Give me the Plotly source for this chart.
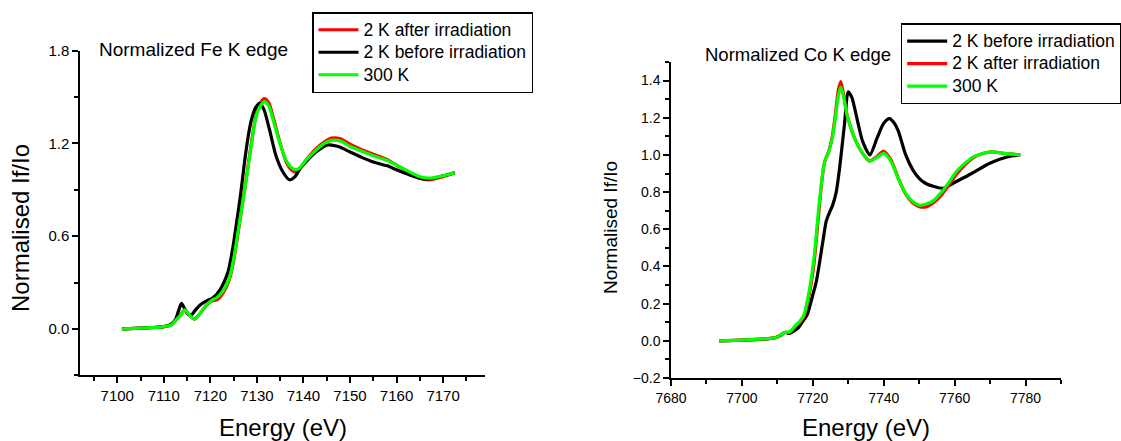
import plotly.graph_objects as go

W, H = 1121, 441

# ---------------- Fe K edge data ----------------
fe_before_E = [7101, 7104, 7107, 7110, 7111.5, 7112.5, 7113.2, 7113.8, 7114.5, 7115.2, 7115.9, 7117, 7118,
               7119.1, 7120.5, 7122, 7123.8, 7124.8, 7125.6, 7126.5, 7127.3, 7128.1, 7128.8, 7129.7, 7130.6,
               7131.5, 7132.7, 7134.1, 7135.5, 7137.0, 7138.2, 7139.1, 7140.5, 7142.5, 7145.2, 7147.5, 7150,
               7152.5, 7155, 7158, 7160, 7162.5, 7165, 7167, 7170, 7172.5]
fe_before_v = [0.0, 0.003, 0.008, 0.015, 0.03, 0.06, 0.12, 0.165, 0.13, 0.095, 0.09, 0.13, 0.16,
               0.18, 0.2, 0.25, 0.37, 0.52, 0.68, 0.87, 1.07, 1.24, 1.35, 1.43, 1.46,
               1.42, 1.29, 1.12, 1.02, 0.965, 0.985, 1.03, 1.08, 1.14, 1.19, 1.18, 1.145,
               1.11, 1.08, 1.055, 1.03, 1.0, 0.975, 0.97, 0.99, 1.01]

fe_300_E = [7101, 7104, 7107, 7110, 7111.6, 7112.7, 7113.6, 7114.5, 7115.5, 7116.6, 7117.8, 7119.1, 7120.3,
            7121.5, 7122.8, 7124.1, 7125, 7125.9, 7126.8, 7127.7, 7128.7, 7129.8, 7130.7, 7131.6, 7132.6,
            7133.5, 7134.5, 7135.4, 7136.3, 7137.4, 7138.4, 7139.3, 7140.5, 7142.5, 7144.5, 7146, 7148,
            7150, 7152.5, 7155, 7158, 7160, 7162.5, 7165, 7167, 7170, 7172.5]
fe_300_v = [0.0, 0.003, 0.008, 0.015, 0.026, 0.06, 0.09, 0.123, 0.09, 0.063, 0.1, 0.155, 0.185,
            0.205, 0.25, 0.33, 0.45, 0.62, 0.79, 0.96, 1.17, 1.37, 1.44, 1.47, 1.44,
            1.35, 1.245, 1.16, 1.09, 1.045, 1.03, 1.045, 1.09, 1.15, 1.2, 1.22, 1.215,
            1.18, 1.15, 1.12, 1.09, 1.06, 1.02, 0.985, 0.975, 0.99, 1.01]
fe_after_E = fe_300_E
fe_after_v = [0.0, 0.003, 0.008, 0.015, 0.026, 0.06, 0.09, 0.123, 0.09, 0.063, 0.1, 0.15, 0.18,
              0.19, 0.235, 0.32, 0.44, 0.61, 0.79, 0.97, 1.18, 1.38, 1.46, 1.49, 1.46,
              1.37, 1.255, 1.16, 1.08, 1.03, 1.015, 1.04, 1.09, 1.16, 1.21, 1.235, 1.23,
              1.195, 1.16, 1.13, 1.095, 1.06, 1.015, 0.975, 0.965, 0.985, 1.01]

# ---------------- Co K edge data ----------------
co_before_E = [7693.6, 7700, 7705, 7709, 7711, 7712.2, 7713.5, 7715.9, 7717, 7718.4, 7719.9, 7721,
               7722.8, 7723.8, 7724.7, 7725.6, 7726.6, 7727.5, 7728.9, 7730, 7731, 7732, 7733, 7734.1,
               7736.1, 7738.1, 7740, 7741.6, 7743, 7744.1, 7746.2, 7748.2, 7750.2, 7752, 7754.2, 7756.8,
               7759.8, 7764.8, 7769.9, 7775, 7778.5]
co_before_v = [0.0, 0.003, 0.007, 0.015, 0.03, 0.045, 0.04, 0.07, 0.1, 0.14, 0.24, 0.32,
               0.53, 0.645, 0.69, 0.73, 0.8, 0.92, 1.16, 1.34, 1.31, 1.235, 1.15, 1.07,
               1.0, 1.09, 1.17, 1.195, 1.17, 1.13, 1.0, 0.92, 0.87, 0.845, 0.83, 0.82,
               0.85, 0.9, 0.955, 0.99, 1.0]

co_300_E = [7693.6, 7700, 7705, 7708, 7710, 7712, 7713.5, 7715, 7716.5, 7717.5, 7719, 7720.3, 7721.5,
            7722.5, 7723.3, 7724.5, 7725.5, 7726.5, 7727.2, 7727.9, 7728.8, 7729.6, 7730.5, 7732, 7734,
            7736, 7738, 7740, 7742, 7744, 7746, 7748, 7750, 7752.2, 7754.2, 7756.3, 7758.3, 7760.3,
            7762.3, 7765.3, 7768.4, 7770.5, 7774, 7778.5]
co_300_v = [0.0, 0.004, 0.009, 0.013, 0.02, 0.045, 0.05, 0.08, 0.11, 0.14, 0.27, 0.44, 0.68,
            0.86, 0.96, 1.02, 1.09, 1.22, 1.32, 1.365, 1.3, 1.22, 1.16, 1.08, 1.01,
            0.967, 0.985, 1.008, 0.967, 0.877, 0.80, 0.752, 0.73, 0.737, 0.757, 0.80, 0.85, 0.905,
            0.945, 0.99, 1.01, 1.017, 1.008, 1.0]
co_after_E = co_300_E
co_after_v = [0.0, 0.004, 0.009, 0.013, 0.02, 0.045, 0.045, 0.075, 0.1, 0.13, 0.25, 0.41, 0.65,
              0.85, 0.96, 1.02, 1.1, 1.24, 1.35, 1.395, 1.31, 1.22, 1.16, 1.08, 1.01,
              0.967, 0.99, 1.02, 0.975, 0.88, 0.795, 0.745, 0.722, 0.722, 0.745, 0.785, 0.835, 0.89,
              0.935, 0.985, 1.01, 1.017, 1.008, 1.0]

RED, BLACK, GREEN = "#ff0000", "#000000", "#00ff00"
FONT = "Liberation Sans, Arial, sans-serif"
LW = 3.2
LEG_TEXT_PX = 17.5

fig = go.Figure()

def add(x, y, name, color, xa, ya, leg):
    label = "<span style='font-size:%.1fpx'>%s</span>" % (LEG_TEXT_PX, name)
    fig.add_trace(go.Scatter(x=x, y=y, name=label, mode="lines",
                             line=dict(color=color, width=LW, shape="spline", smoothing=0.7),
                             xaxis=xa, yaxis=ya, legend=leg))

# Left panel (legend order: after, before, 300 K)
add(fe_after_E, fe_after_v, "2 K after irradiation", RED, "x", "y", "legend")
add(fe_before_E, fe_before_v, "2 K before irradiation", BLACK, "x", "y", "legend")
add(fe_300_E, fe_300_v, "300 K", GREEN, "x", "y", "legend")
# Right panel (legend order: before, after, 300 K)
add(co_before_E, co_before_v, "2 K before irradiation", BLACK, "x2", "y2", "legend2")
add(co_after_E, co_after_v, "2 K after irradiation", RED, "x2", "y2", "legend2")
add(co_300_E, co_300_v, "300 K", GREEN, "x2", "y2", "legend2")

def px(x):
    return x / W

def py(y):
    return 1 - y / H

axis_common = dict(showgrid=False, zeroline=False, showline=True, linecolor="black", linewidth=1.5,
                   ticks="outside", ticklen=6, tickwidth=1.5, tickcolor="black", mirror=False,
                   automargin=False)

fig.update_layout(
    width=W, height=H, margin=dict(l=0, r=0, t=0, b=0, autoexpand=False),
    paper_bgcolor="white", plot_bgcolor="white",
    font=dict(family=FONT, color="black"),
    xaxis=dict(domain=[px(80), px(485)], range=[7092, 7179], dtick=10, tick0=7100,
               tickfont=dict(size=15), anchor="y",
               minor=dict(dtick=5, tick0=7095, ticks="outside", ticklen=4, tickwidth=1.5, tickcolor="black"),
               **axis_common),
    yaxis=dict(domain=[py(375.3), py(50.7)], range=[-0.3, 1.8], dtick=0.6, tick0=0,
               tickformat=".1f", tickfont=dict(size=15), anchor="x",
               minor=dict(dtick=0.3, tick0=0.3, ticks="outside", ticklen=4, tickwidth=1.5, tickcolor="black"),
               **axis_common),
    xaxis2=dict(domain=[px(671), px(1061)], range=[7680, 7790], dtick=20, tick0=7680,
                tickfont=dict(size=14), anchor="y2",
                minor=dict(dtick=10, ticks="outside", ticklen=4, tickwidth=1.5, tickcolor="black"),
                **axis_common),
    yaxis2=dict(domain=[py(378), py(62)], range=[-0.2, 1.5], dtick=0.2, tick0=0,
                tickformat=".1f", tickfont=dict(size=14), anchor="x2",
                minor=dict(dtick=0.1, ticks="outside", ticklen=4, tickwidth=1.5, tickcolor="black"),
                **axis_common),
    legend=dict(x=px(312), y=py(12), xanchor="left", yanchor="top", bgcolor="white",
                bordercolor="black", borderwidth=1.5, font=dict(size=15, family=FONT),
                tracegroupgap=0, traceorder="normal", itemwidth=40),
    legend2=dict(x=px(900.7), y=py(23.3), xanchor="left", yanchor="top", bgcolor="white",
                 bordercolor="black", borderwidth=1.5, font=dict(size=15, family=FONT),
                 tracegroupgap=0, traceorder="normal", itemwidth=40),
    showlegend=True,
)

ann = [
    dict(text="Normalized Fe K edge", x=px(97), y=py(50), xanchor="left", yanchor="middle",
         font=dict(size=19)),
    dict(text="Normalized Co K edge", x=px(703), y=py(55), xanchor="left", yanchor="middle",
         font=dict(size=18.5)),
    dict(text="Normalised If/Io", x=px(20), y=py(228), textangle=-90, xanchor="center",
         yanchor="middle", font=dict(size=24)),
    dict(text="Normalised If/Io", x=px(610), y=py(228), textangle=-90, xanchor="center",
         yanchor="middle", font=dict(size=19)),
    dict(text="Energy (eV)", x=px(282.5), y=py(427), xanchor="center", yanchor="middle",
         font=dict(size=24)),
    dict(text="Energy (eV)", x=px(866), y=py(427), xanchor="center", yanchor="middle",
         font=dict(size=24)),
]
for a in ann:
    a.update(xref="paper", yref="paper", showarrow=False)
    a["font"]["family"] = FONT
    a["font"]["color"] = "black"
fig.update_layout(annotations=ann)

fig.write_html("out.html")
